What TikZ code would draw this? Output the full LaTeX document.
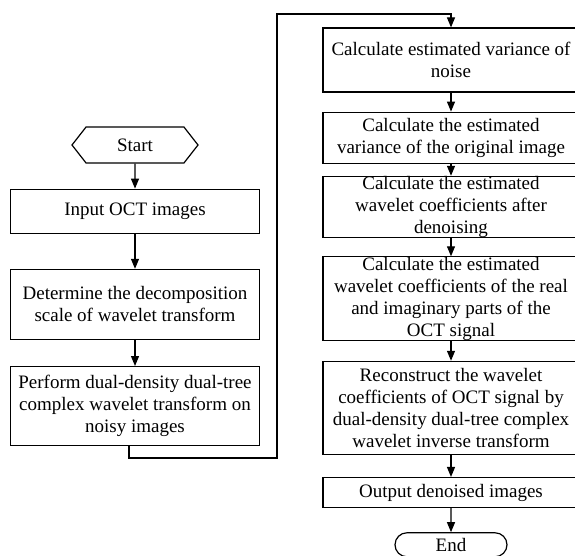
\documentclass[tikz,border=0pt]{standalone}
\usepackage{fontspec}
\setmainfont{Liberation Serif}
\tikzset{
     arrow/.style={-{Triangle[length=10pt,width=8pt]}},
     stepbox/.style={draw, align=center, inner xsep=2pt, inner ysep=0pt, font=\fontsize{19}{22}\selectfont}
     }
\usetikzlibrary{positioning,arrows.meta}
\usetikzlibrary{shapes.symbols,shapes.misc}

\begin{document}
\begin{tikzpicture}[x=1pt,y=1pt,line width=1.2pt]
                    \useasboundingbox (0,0) rectangle (575,-556);
                    % Place nodes, left column
                    \node [stepbox, signal, signal to=west and east, signal pointer angle=104, minimum width=126pt, minimum height=36pt] (start) at (135,-145) {Start};
                    \node [stepbox, minimum width=249pt, minimum height=44pt, below=25pt of start] (input) {Input OCT images};
                    \node [stepbox, minimum width=249pt, minimum height=70pt, below=35pt of input] (scale) {Determine the decomposition\\scale of wavelet transform};
                    \node [stepbox, minimum width=249pt, minimum height=79pt, below=26pt of scale] (ddtcwt) {Perform dual-density dual-tree\\complex wavelet transform on\\noisy images};
                    % Place nodes, right column
                    \node [stepbox, minimum width=256pt, minimum height=64pt] (noisevar) at (451,-60) {Calculate estimated variance of\\noise};
                    \node [stepbox, minimum width=256pt, minimum height=51pt, below=19pt of noisevar] (imgvar) {Calculate the estimated\\variance of the original image};
                    \node [stepbox, minimum width=256pt, minimum height=61pt, below=12pt of imgvar] (estcoef) {Calculate the estimated\\wavelet coefficients after\\denoising};
                    \node [stepbox, minimum width=256pt, minimum height=83pt, below=18pt of estcoef] (reimcoef) {Calculate the estimated\\wavelet coefficients of the real\\and imaginary parts of the\\OCT signal};
                    \node [stepbox, minimum width=256pt, minimum height=93pt, below=20pt of reimcoef] (reconstruct) {Reconstruct the wavelet\\coefficients of OCT signal by\\dual-density dual-tree complex\\wavelet inverse transform};
                    \node [stepbox, minimum width=256pt, minimum height=30pt, below=22pt of reconstruct] (output) {Output denoised images};
                    \node [stepbox, rounded rectangle, minimum width=116pt, minimum height=24pt, below=24pt of output] (stop) {End};
                    \coordinate (bend) at (277,-458);
                    \coordinate (top) at (277,-14);
                    % Draw edges
                    \draw [arrow] (start) -- (input);
                    \draw [arrow] (input) -- (scale);
                    \draw [arrow] (scale) -- (ddtcwt);
                    \draw [arrow] ([xshift=-6pt]ddtcwt.south) |- (bend) -- (top) -| (noisevar.north);
                    \draw [arrow] (noisevar) -- (imgvar);
                    \draw [arrow] (imgvar) -- (estcoef);
                    \draw [arrow] (estcoef) -- (reimcoef);
                    \draw [arrow] (reimcoef) -- (reconstruct);
                    \draw [arrow] (reconstruct) -- (output);
                    \draw [arrow] (output) -- (stop);
                \end{tikzpicture}
\end{document}
